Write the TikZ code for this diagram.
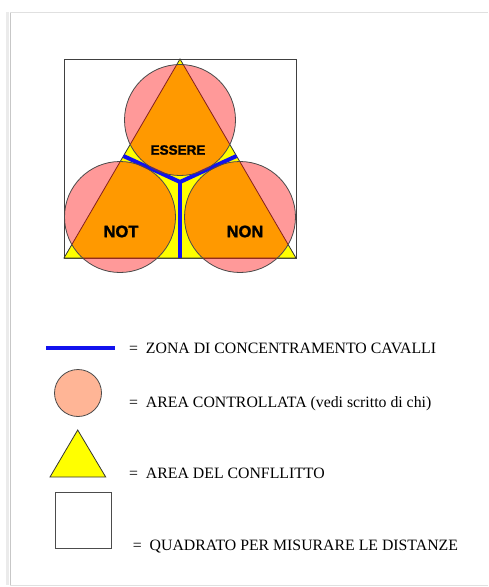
\documentclass[tikz,border=0pt]{standalone}
\usepackage{fontspec}
\setmainfont{Liberation Serif}
\newfontfamily\armyfont[FakeBold=1.6]{Liberation Sans Bold}
\usetikzlibrary{positioning}
\definecolor{conflictc}{HTML}{FFFF00}
\definecolor{controlc}{HTML}{FF0000}
\definecolor{legendc}{HTML}{FFB596}
\definecolor{cavallic}{HTML}{1212EE}
\definecolor{edgec}{HTML}{4A4A4A}
\tikzset{
  pageedge/.style={draw=black!22, line width=1pt},
  measuresquare/.style={draw=black!75, fill=white, line width=1pt},
  conflictarea/.style={draw=black!80, fill=conflictc, line width=0.8pt},
  controlarea/.style={draw=edgec, fill=controlc, fill opacity=0.4, line width=0.8pt},
  cavalliline/.style={draw=cavallic, line width=4pt},
  armylabel/.style={inner sep=0pt, text=black},
  legendtext/.style={anchor=base west, inner sep=0pt,
    font=\fontsize{15.8}{18}\selectfont},
}

\begin{document}
\begin{tikzpicture}[x=1pt, y=-1pt]
  \useasboundingbox (0,0) rectangle (488,587);
  \fill[white] (0,0) rectangle (488,587);
  % page edge
  \draw[black!8, line width=3pt] (7,12) -- (7,585);
  \draw[pageedge] (10,12) -- (10,585);
  \draw[black!12] (10,12) -- (488,12);
  \draw[black!12] (10,585) -- (488,585);
  % main picture
  \draw[measuresquare] (64,59) rectangle (296,258);
  \coordinate (apex) at (180,59);
  \coordinate (baseleft) at (64,258);
  \coordinate (baseright) at (296,258);
  \draw[conflictarea] (apex) -- (baseleft) -- (baseright) -- cycle;
  \coordinate (centro) at (180,182);
  \coordinate (zonaleft) at (123.5,156);
  \coordinate (zonaright) at (236.5,156);
  \coordinate (zonabottom) at (180,258);
  \draw[cavalliline, line join=round] (zonaleft) -- (centro) -- (zonaright);
  \draw[cavalliline] (centro) -- (zonabottom);
  \draw[controlarea] (180,120) circle (55.5);
  \draw[controlarea] (120,217) circle (55.5);
  \draw[controlarea] (240,217) circle (55.5);
  \node[armylabel, font=\armyfont\fontsize{13.5}{15}\selectfont] (essere) at (178,150) {ESSERE};
  \node[armylabel, font=\armyfont\fontsize{16.5}{18}\selectfont] (notlabel) at (121,231.5) {NOT};
  \node[armylabel, font=\armyfont\fontsize{16.5}{18}\selectfont] (nonlabel) at (245,231.5) {NON};
  % legend
  \coordinate (legzonaa) at (46,348);
  \coordinate (legzonab) at (115,348);
  \draw[cavalliline] (legzonaa) -- (legzonab);
  \node[legendtext] (zonatext) at (129,353) {=\hspace{0.5em}ZONA DI CONCENTRAMENTO CAVALLI};
  \node[circle, draw=edgec, fill=legendc, line width=0.8pt, minimum size=47pt, inner sep=0pt] (legcircle) at (78,393) {};
  \node[legendtext] (areatext) at (129,407) {=\hspace{0.5em}AREA CONTROLLATA (vedi scritto di chi)};
  \draw[conflictarea] (77.7,430) -- (50,477) -- (105.7,477) -- cycle;
  \node[legendtext] (conflittotext) at (129,478) {=\hspace{0.5em}AREA DEL CONFLLITTO};
  \node[draw=black!70, fill=white, line width=0.8pt, minimum size=56pt, inner sep=0pt] (legsquare) at (83,520) {};
  \node[legendtext] (quadratotext) at (132.7,550.5) {=\hspace{0.5em}QUADRATO PER MISURARE LE DISTANZE};
\end{tikzpicture}
\end{document}
